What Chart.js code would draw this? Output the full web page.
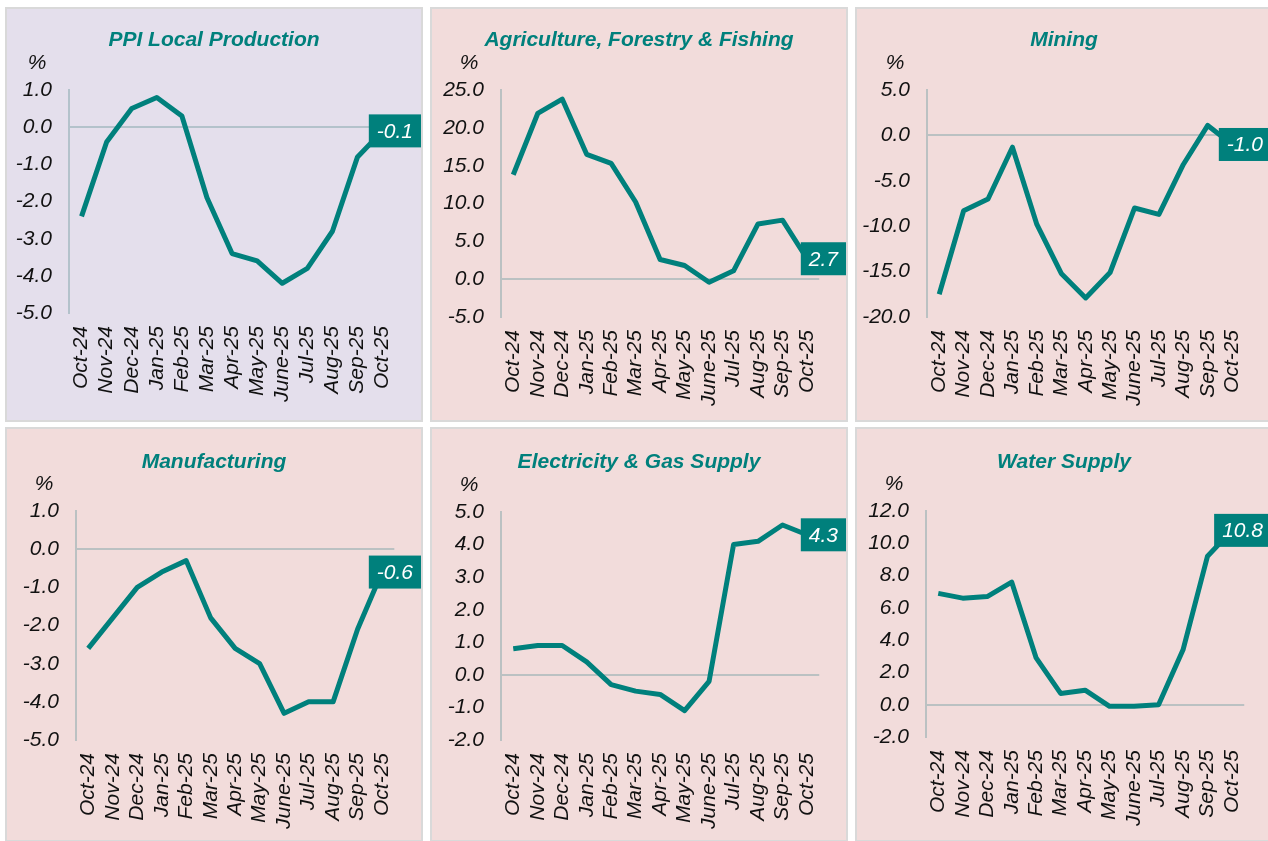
<!DOCTYPE html>
<html>
<head>
<meta charset="utf-8">
<script src="https://cdn.jsdelivr.net/npm/chart.js@4.4.1/dist/chart.umd.min.js"></script>
<style>
html, body { margin: 0; padding: 0; background: #ffffff; overflow: hidden; width: 1268px; height: 841px; }
.panel { position: absolute; width: 414px; height: 411px; border: 2px solid #D9D9D9; }
.panel canvas { display: block; }
</style>
</head>
<body>
<div class="panel" style="left:5px;top:7px;background:#E4DFEC"><canvas id="c0" width="414" height="411"></canvas></div>
<div class="panel" style="left:430px;top:7px;background:#F2DCDB"><canvas id="c1" width="414" height="411"></canvas></div>
<div class="panel" style="left:855px;top:7px;background:#F2DCDB"><canvas id="c2" width="414" height="411"></canvas></div>
<div class="panel" style="left:5px;top:427px;background:#F2DCDB"><canvas id="c3" width="414" height="411"></canvas></div>
<div class="panel" style="left:430px;top:427px;background:#F2DCDB"><canvas id="c4" width="414" height="411"></canvas></div>
<div class="panel" style="left:855px;top:427px;background:#F2DCDB"><canvas id="c5" width="414" height="411"></canvas></div>
<script>
// ---- Data ----
const categories = ['Oct-24','Nov-24','Dec-24','Jan-25','Feb-25','Mar-25','Apr-25','May-25','June-25','Jul-25','Aug-25','Sep-25','Oct-25'];
const titles = ['PPI Local Production','Agriculture, Forestry & Fishing','Mining','Manufacturing','Electricity & Gas Supply','Water Supply'];
const ppiLocal      = [-2.4, -0.4, 0.5, 0.8, 0.3, -1.9, -3.4, -3.6, -4.2, -3.8, -2.8, -0.8, -0.1];
const agriculture   = [13.8, 21.9, 23.8, 16.5, 15.3, 10.2, 2.6, 1.8, -0.4, 1.1, 7.3, 7.8, 2.7];
const mining        = [-17.5, -8.3, -7.0, -1.3, -9.8, -15.2, -17.9, -15.1, -8.0, -8.7, -3.2, 1.1, -1.0];
const manufacturing = [-2.6, -1.8, -1.0, -0.6, -0.3, -1.8, -2.6, -3.0, -4.3, -4.0, -4.0, -2.1, -0.6];
const electricity   = [0.8, 0.9, 0.9, 0.4, -0.3, -0.5, -0.6, -1.1, -0.2, 4.0, 4.1, 4.6, 4.3];
const water         = [6.9, 6.6, 6.7, 7.6, 2.9, 0.7, 0.9, -0.1, -0.1, 0.0, 3.4, 9.2, 10.8];
const yMin  = [-5, -5, -20, -5, -2, -2];
const yMax  = [1, 25, 5, 1, 5, 12];
const yStep = [1, 5, 5, 1, 1, 2];
const series = [ppiLocal, agriculture, mining, manufacturing, electricity, water];

// ---- Styles ----
const TEAL = '#00807C';
const AXIS = 'rgba(120,160,165,0.45)';
const TXT = '#111111';
const FONT = '"Liberation Sans", Arial, sans-serif';
const layoutSpec = [
  {left:62, padR:5,  top:81, xh:107, titleY:31},
  {left:69, padR:21, top:81, xh:103, titleY:31},
  {left:70, padR:17, top:81, xh:103, titleY:31},
  {left:69, padR:19, top:82, xh:100, titleY:33},
  {left:69, padR:21, top:83, xh:100, titleY:33},
  {left:69, padR:21, top:82, xh:103, titleY:33}
];

const percentPlugin = {
  id: 'percentUnit',
  afterDraw(chart) {
    const a = chart.chartArea, ctx = chart.ctx;
    ctx.save();
    ctx.font = 'italic 21px ' + FONT;
    ctx.fillStyle = TXT;
    ctx.textAlign = 'center';
    ctx.textBaseline = 'middle';
    ctx.fillText('%', a.left - 32, a.top - 27);
    ctx.restore();
  }
};

const lastLabelPlugin = {
  id: 'lastLabel',
  afterDatasetsDraw(chart) {
    const meta = chart.getDatasetMeta(0);
    const data = chart.data.datasets[0].data;
    const pt = meta.data[meta.data.length - 1];
    const txt = data[data.length - 1].toFixed(1);
    const ctx = chart.ctx;
    ctx.save();
    ctx.font = 'italic 21px ' + FONT;
    const w = ctx.measureText(txt).width + 16;
    const h = 33;
    const x = chart.width - w;
    const y = pt.y - h / 2;
    ctx.fillStyle = TEAL;
    ctx.fillRect(x, y, w, h);
    ctx.fillStyle = '#ffffff';
    ctx.textAlign = 'center';
    ctx.textBaseline = 'middle';
    ctx.fillText(txt, x + w / 2, pt.y + 1);
    ctx.restore();
  }
};

function makeChart(i) {
  const L = layoutSpec[i];
  new Chart(document.getElementById('c' + i), {
    type: 'line',
    data: {
      labels: categories,
      datasets: [{
        data: series[i],
        yAxisID: 'y',
        borderColor: TEAL,
        borderWidth: 5,
        pointRadius: 0,
        pointHoverRadius: 0,
        tension: 0,
        fill: false,
        borderJoinStyle: 'round',
        borderCapStyle: 'butt'
      }]
    },
    options: {
      responsive: false,
      animation: false,
      devicePixelRatio: 1,
      events: [],
      layout: { padding: { left: 0, right: 0, top: 0, bottom: 0 } },
      plugins: {
        legend: { display: false },
        tooltip: { enabled: false },
        title: {
          display: true,
          text: titles[i],
          color: TEAL,
          font: { family: FONT, size: 21, weight: 'bold', style: 'italic', lineHeight: 1.2 },
          padding: { top: L.titleY - 12.6, bottom: L.top - (L.titleY - 12.6) - 25.2 }
        }
      },
      scales: {
        x: {
          type: 'category',
          offset: true,
          grid: { display: false, drawTicks: false },
          border: { display: false },
          ticks: {
            autoSkip: false, maxRotation: 90, minRotation: 90, padding: 13,
            color: TXT, font: { family: FONT, size: 21, style: 'italic' }
          },
          afterFit: (s) => { s.height = L.xh; }
        },
        y: {
          position: 'left',
          min: yMin[i],
          max: yMax[i],
          grid: {
            color: (c) => (c.tick && c.tick.value === 0) ? AXIS : 'rgba(0,0,0,0)',
            lineWidth: 2,
            drawTicks: false
          },
          border: { display: true, color: AXIS, width: 2 },
          ticks: {
            stepSize: yStep[i], padding: 17, color: TXT,
            font: { family: FONT, size: 21, style: 'italic' },
            callback: (v) => Number(v).toFixed(1)
          },
          afterFit: (s) => { s.width = L.left; }
        },
        yRightSpace: {
          position: 'right',
          min: yMin[i],
          max: yMax[i],
          grid: { display: false, drawTicks: false },
          border: { display: false },
          ticks: { display: false },
          afterFit: (s) => { s.width = L.padR; }
        }
      }
    },
    plugins: [percentPlugin, lastLabelPlugin]
  });
}

for (let i = 0; i < 6; i++) makeChart(i);
</script>
</body>
</html>
